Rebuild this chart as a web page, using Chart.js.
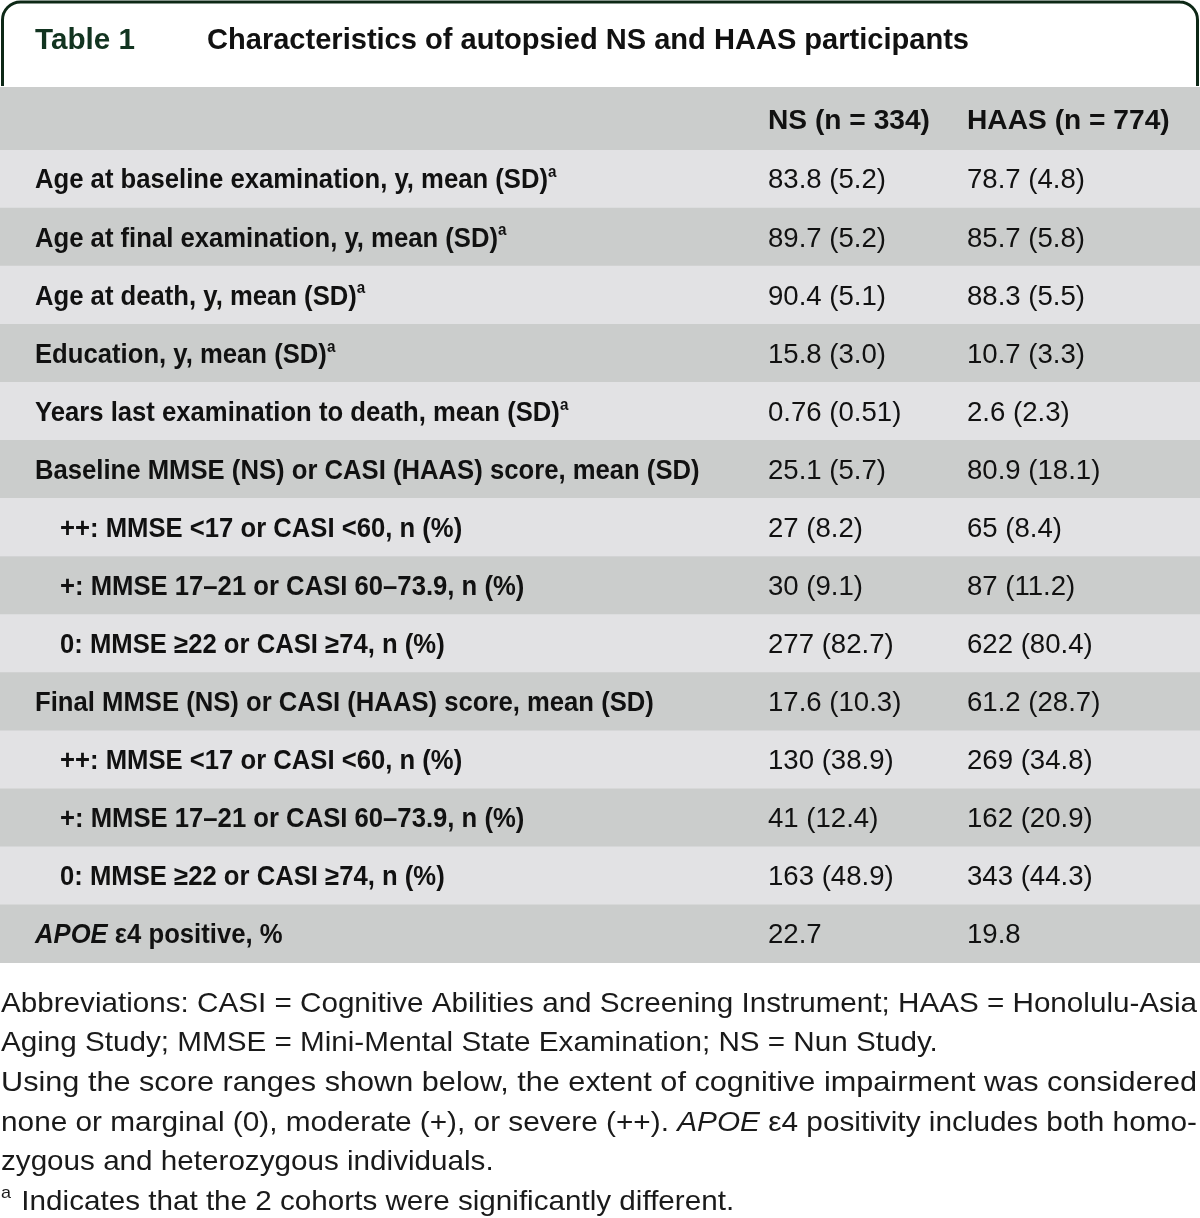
<!DOCTYPE html>
<html>
<head>
<meta charset="utf-8">
<script src="https://cdn.jsdelivr.net/npm/chart.js@4.4.0/dist/chart.umd.min.js"></script>
<style>
  html, body { margin: 0; padding: 0; background: #fff; }
  canvas { display: block; }
</style>
</head>
<body>
<canvas id="table" width="1200" height="1218"></canvas>
<script>
// table content ( _x_ = italic, ^a = superscript )
const tableNo = "Table 1";
const title = "Characteristics of autopsied NS and HAAS participants";
const columns = ["NS (n = 334)", "HAAS (n = 774)"];
const rowLabels = [
  "Age at baseline examination, y, mean (SD)^a",
  "Age at final examination, y, mean (SD)^a",
  "Age at death, y, mean (SD)^a",
  "Education, y, mean (SD)^a",
  "Years last examination to death, mean (SD)^a",
  "Baseline MMSE (NS) or CASI (HAAS) score, mean (SD)",
  "++: MMSE <17 or CASI <60, n (%)",
  "+: MMSE 17–21 or CASI 60–73.9, n (%)",
  "0: MMSE ≥22 or CASI ≥74, n (%)",
  "Final MMSE (NS) or CASI (HAAS) score, mean (SD)",
  "++: MMSE <17 or CASI <60, n (%)",
  "+: MMSE 17–21 or CASI 60–73.9, n (%)",
  "0: MMSE ≥22 or CASI ≥74, n (%)",
  "_APOE_ ε4 positive, %"
];
const nsValues = ["83.8 (5.2)", "89.7 (5.2)", "90.4 (5.1)", "15.8 (3.0)", "0.76 (0.51)", "25.1 (5.7)",
  "27 (8.2)", "30 (9.1)", "277 (82.7)", "17.6 (10.3)", "130 (38.9)", "41 (12.4)", "163 (48.9)", "22.7"];
const haasValues = ["78.7 (4.8)", "85.7 (5.8)", "88.3 (5.5)", "10.7 (3.3)", "2.6 (2.3)", "80.9 (18.1)",
  "65 (8.4)", "87 (11.2)", "622 (80.4)", "61.2 (28.7)", "269 (34.8)", "162 (20.9)", "343 (44.3)", "19.8"];
const notes = [
  "Abbreviations: CASI = Cognitive Abilities and Screening Instrument; HAAS = Honolulu-Asia",
  "Aging Study; MMSE = Mini-Mental State Examination; NS = Nun Study.",
  "Using the score ranges shown below, the extent of cognitive impairment was considered",
  "none or marginal (0), moderate (+), or severe (++). _APOE_ ε4 positivity includes both homo-",
  "zygous and heterozygous individuals.",
  "^a Indicates that the 2 cohorts were significantly different."
];
const justifiedNotes = [0, 2, 3];

const FAMILY = "'Liberation Sans', Arial, sans-serif";
const DARK = '#cbcdcc', LIGHT = '#e2e2e4';
const GREEN = '#123420';
const HEADER_TOP = 87;

function runs(str) {
  const out = [];
  const re = /(_[^_]+_|\^\w)/g;
  let last = 0, m;
  while ((m = re.exec(str))) {
    if (m.index > last) out.push({ t: str.slice(last, m.index) });
    const tok = m[0];
    if (tok[0] === '_') out.push({ t: tok.slice(1, -1), italic: true });
    else out.push({ t: tok.slice(1), sup: true });
    last = re.lastIndex;
  }
  if (last < str.length) out.push({ t: str.slice(last) });
  return out;
}
function fontFor(r, weight, size) {
  const s = r.sup ? Math.round(size * 0.6) : size;
  return (r.italic ? 'italic ' : '') + weight + ' ' + s + 'px ' + FAMILY;
}
function measureRich(ctx, str, weight, size) {
  let w = 0;
  for (const r of runs(str)) { ctx.font = fontFor(r, weight, size); w += ctx.measureText(r.t).width; }
  return w;
}
function drawRich(ctx, str, x, y, weight, size, sx) {
  ctx.save();
  ctx.translate(x, y);
  ctx.scale(sx, 1);
  let cx = 0;
  for (const r of runs(str)) {
    ctx.font = fontFor(r, weight, size);
    ctx.fillText(r.t, cx, r.sup ? -size * 0.3 : 0);
    cx += ctx.measureText(r.t).width + (r.sup ? 2 : 0);
  }
  ctx.restore();
}

const tablePlugin = {
  id: 'tableText',
  beforeDatasetsDraw(chart) {
    // column header band above the first row
    const ctx = chart.ctx;
    ctx.save();
    ctx.fillStyle = DARK;
    ctx.fillRect(chart.chartArea.left, HEADER_TOP, chart.chartArea.width, chart.chartArea.top - HEADER_TOP);
    ctx.restore();
  },
  afterDatasetsDraw(chart) {
    const ctx = chart.ctx;
    const y = chart.scales.y;
    ctx.save();
    ctx.textBaseline = 'middle';
    ctx.fillStyle = '#111';

    // horizontal squeeze so widths follow the narrower face of the original
    const labelSx = 513 / measureRich(ctx, 'Age at baseline examination, y, mean (SD)', 'bold', 27);
    const colSx = 162 / measureRich(ctx, columns[0], 'bold', 27);
    const valueSx = 118 / measureRich(ctx, '83.8 (5.2)', 'normal', 27);

    const hy = (HEADER_TOP + chart.chartArea.top) / 2 + 3;
    drawRich(ctx, columns[0], 768, hy, 'bold', 27, colSx);
    drawRich(ctx, columns[1], 967, hy, 'bold', 27, colSx);

    rowLabels.forEach((lab, i) => {
      const py = y.getPixelForValue(i) + 2;
      const sub = /^(\+\+|\+|0):/.test(lab);
      drawRich(ctx, lab, sub ? 60 : 35, py, 'bold', 27, labelSx);
      drawRich(ctx, nsValues[i], 768, py, 'normal', 27, valueSx);
      drawRich(ctx, haasValues[i], 967, py, 'normal', 27, valueSx);
    });
    ctx.restore();
  },
  afterDraw(chart) {
    const ctx = chart.ctx;
    ctx.save();
    // title tab
    ctx.strokeStyle = '#0d2816';
    ctx.lineWidth = 3;
    ctx.beginPath();
    ctx.moveTo(2.5, 86);
    ctx.lineTo(2.5, 20);
    ctx.arcTo(2.5, 2, 20, 2, 18);
    ctx.lineTo(1180, 2);
    ctx.arcTo(1197.5, 2, 1197.5, 20, 18);
    ctx.lineTo(1197.5, 86);
    ctx.stroke();

    ctx.textBaseline = 'middle';
    ctx.fillStyle = GREEN;
    const tSx = 100 / measureRich(ctx, tableNo, 'bold', 30);
    drawRich(ctx, tableNo, 35, 41, 'bold', 30, tSx);
    ctx.fillStyle = '#111';
    const hSx = 762 / measureRich(ctx, title, 'bold', 30);
    drawRich(ctx, title, 207, 41, 'bold', 30, hSx);

    // footnotes
    ctx.fillStyle = '#1a1a1a';
    const baseSx = 1196 / measureRich(ctx, notes[0], 'normal', 28);
    notes.forEach((n, i) => {
      const sx = justifiedNotes.includes(i) ? 1196 / measureRich(ctx, n, 'normal', 28) : baseSx;
      drawRich(ctx, n, 1, 1004 + i * 39.6, 'normal', 28, sx);
    });
    ctx.restore();
  }
};

new Chart(document.getElementById('table'), {
  type: 'bar',
  data: {
    labels: rowLabels,
    datasets: [{
      data: rowLabels.map(() => 1),
      backgroundColor: rowLabels.map((c, i) => (i % 2 === 0 ? LIGHT : DARK)),
      barPercentage: 1,
      categoryPercentage: 1,
      borderWidth: 0
    }]
  },
  options: {
    indexAxis: 'y',
    responsive: false,
    animation: false,
    events: [],
    layout: { padding: { top: 150, bottom: 255, left: 0, right: 0 } },
    plugins: { legend: { display: false }, tooltip: { enabled: false } },
    scales: {
      x: { display: false, min: 0, max: 1 },
      y: { display: false }
    }
  },
  plugins: [tablePlugin]
});
</script>
</body>
</html>
